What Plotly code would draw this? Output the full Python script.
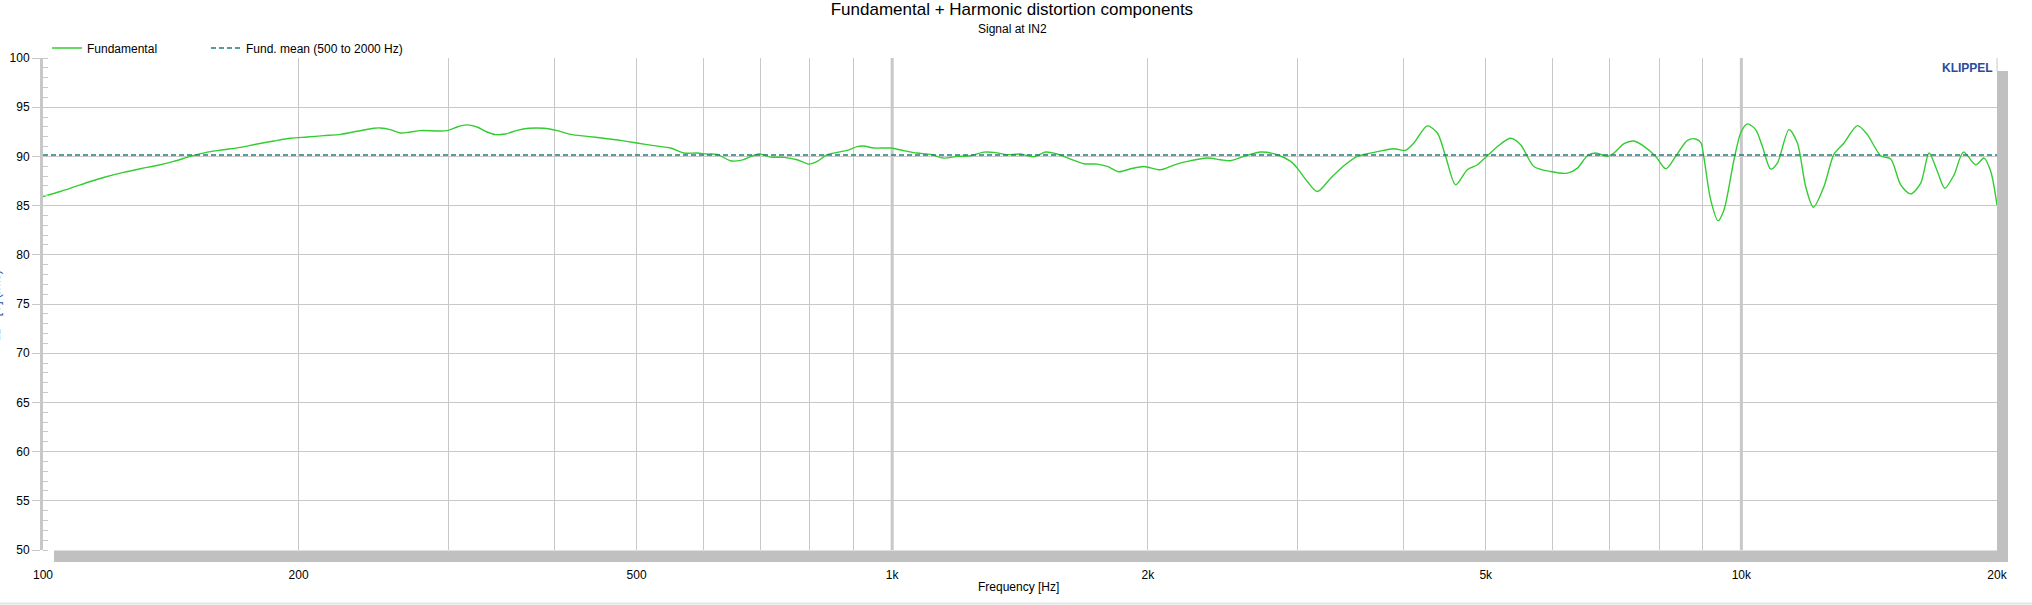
import math
import plotly.graph_objects as go

# ---------------- data ----------------
freq_hz = [100, 104.8, 108.6, 113.7, 119.0, 124.4, 130.2, 136.2, 142.5, 149.1,
           156.1, 163.2, 170.8, 178.7, 186.9, 195.6, 204.6, 214.1, 224.0, 234.4,
           245.2, 249.6, 256.5, 263.5, 270.8, 278.3, 299.2, 307.4, 315.2, 324.5,
           333.4, 341.0, 350.4, 361.7, 373.3, 388.8, 403.2, 418.0, 437.3, 457.5,
           478.6, 500.7, 524.0, 548.2, 568.3, 589.3, 605.5, 622.2, 645.0, 662.8,
           696.5, 719.0, 745.3, 772.8, 797.6, 816.0, 838.4, 861.4, 885.1, 909.5,
           926.0, 951.3, 995.5, 1032, 1070, 1110, 1150, 1193, 1237, 1282,
           1317, 1366, 1416, 1468, 1516, 1564, 1622, 1682, 1744, 1792,
           1849, 1909, 1979, 2070, 2146, 2226, 2350, 2436, 2503, 2595,
           2715, 2841, 2946, 2999, 3082, 3167, 3284, 3404, 3530, 3627,
           3727, 3898, 4023, 4115, 4267, 4385, 4485, 4608, 4757, 4888,
           5022, 5206, 5349, 5496, 5697, 5962, 6240, 6412, 6587, 6737,
           6954, 7079, 7273, 7473, 7679, 7928, 8145, 8368, 8640, 8838,
           8959, 9036, 9202, 9386, 9539, 9802, 9982, 10164, 10395, 10585,
           10827, 11025, 11378, 11640, 11904, 12156, 12511, 12855, 13209, 13698,
           14072, 14590, 14992, 15404, 15828, 16264, 16634, 17017, 17358, 17803,
           18260, 18880, 19310, 19664, 20000]

fund_db = [85.92, 86.43, 86.87, 87.45, 87.96, 88.37, 88.74, 89.08, 89.49, 90.00,
           90.44, 90.68, 90.92, 91.26, 91.56, 91.84, 91.97, 92.11, 92.24, 92.55,
           92.86, 92.89, 92.72, 92.38, 92.48, 92.62, 92.62, 92.99, 93.20, 92.99,
           92.48, 92.21, 92.28, 92.65, 92.86, 92.86, 92.62, 92.24, 92.04, 91.84,
           91.63, 91.36, 91.09, 90.85, 90.34, 90.34, 90.24, 90.20, 89.56, 89.59,
           90.24, 89.93, 89.90, 89.66, 89.22, 89.49, 90.17, 90.41, 90.61, 90.99,
           91.05, 90.85, 90.85, 90.58, 90.34, 90.20, 89.83, 90.00, 90.07, 90.44,
           90.41, 90.17, 90.24, 89.97, 90.44, 90.24, 89.73, 89.25, 89.22, 88.98,
           88.44, 88.74, 88.98, 88.64, 89.12, 89.49, 89.83, 89.66, 89.56, 90.00,
           90.44, 90.17, 89.49, 88.81, 87.45, 86.43, 87.79, 89.05, 90.00, 90.27,
           90.48, 90.78, 90.61, 91.36, 93.10, 92.38, 90.00, 87.11, 88.64, 89.15,
           90.07, 91.26, 91.84, 91.19, 88.98, 88.47, 88.30, 88.81, 90.07, 90.34,
           90.00, 90.34, 91.29, 91.56, 91.02, 90.00, 88.74, 90.00, 91.63, 91.77,
           91.40, 89.83, 85.58, 83.47, 84.56, 89.66, 92.38, 93.30, 92.72, 91.02,
           88.71, 89.32, 92.72, 91.36, 86.94, 84.83, 86.94, 90.24, 91.36, 93.13,
           92.21, 90.07, 89.73, 87.11, 86.19, 87.28, 90.34, 88.47, 86.77, 88.13,
           90.44, 89.15, 89.83, 88.47, 85.07]

mean_db = 90.15
mean_label = "Fund. mean (500 to 2000 Hz)"

x_grid = [100, 200, 300, 400, 500, 600, 700, 800, 900,
          1000, 2000, 3000, 4000, 5000, 6000, 7000, 8000, 9000,
          10000, 20000]
x_tick_labels = {100: "100", 200: "200", 500: "500", 1000: "1k",
                 2000: "2k", 5000: "5k", 10000: "10k", 20000: "20k"}
heavy_grid = [1000, 10000]
x_range_hz = [100, 20000]
y_range = [50, 100]

# ---------------- styling ----------------
FONT = "Liberation Sans, Arial, Helvetica, sans-serif"
GRID = "#c8c8c8"
BAR = "#c0c0c0"

L, R, T, B = 43, 35, 58, 55
W, H = 2032, 605
PW, PH = W - L - R, H - T - B


def px_x(p):
    return (p - L) / PW


def px_y(p):
    return (H - B - p) / PH


fig = go.Figure()

for v in heavy_grid:
    fig.add_trace(go.Scatter(x=[v, v], y=y_range, mode="lines",
                             line=dict(color=GRID, width=3),
                             showlegend=False, hoverinfo="skip"))

fig.add_trace(go.Scatter(x=freq_hz, y=fund_db, mode="lines", name="Fundamental",
                         legendwidth=114,
                         line=dict(color="#33cc33", width=1.4, shape="spline",
                                   smoothing=0.8)))

fig.add_trace(go.Scatter(x=x_range_hz, y=[mean_db, mean_db], mode="lines",
                         name=mean_label,
                         line=dict(color="#1b7f7f", width=1.5, dash="5px,3px")))

fig.update_layout(
    width=W, height=H,
    margin=dict(l=L, r=R, t=T, b=B, autoexpand=False),
    paper_bgcolor="white", plot_bgcolor="white",
    font=dict(family=FONT, size=12, color="#000000"),
    title=dict(text="Fundamental + Harmonic distortion components",
               x=0.498, xanchor="center", xref="container",
               y=1 - 9 / H, yanchor="middle", yref="container",
               font=dict(size=17, color="#000000")),
    showlegend=True,
    legend=dict(orientation="h", x=px_x(47), xanchor="left",
                y=px_y(48), yanchor="middle",
                font=dict(size=12), bgcolor="rgba(0,0,0,0)",
                tracegroupgap=0),
    xaxis=dict(type="log", range=[math.log10(x_range_hz[0]), math.log10(x_range_hz[1])],
               tickmode="array", tickvals=x_grid,
               ticktext=[x_tick_labels.get(v, "") for v in x_grid],
               showgrid=True, gridcolor=GRID, gridwidth=1,
               ticks="outside", ticklen=14, tickcolor="rgba(0,0,0,0)",
               showline=False, zeroline=False, tickfont=dict(size=12)),
    yaxis=dict(range=y_range, tickmode="linear", tick0=50, dtick=5,
               showgrid=True, gridcolor=GRID, gridwidth=1,
               ticks="outside", ticklen=8, tickcolor=GRID, tickwidth=1,
               showline=True, linewidth=3, linecolor=GRID, zeroline=False,
               tickfont=dict(size=12),
               minor=dict(dtick=1, ticks="inside", ticklen=5,
                          tickcolor=GRID, tickwidth=1, showgrid=False)),
)

fig.add_annotation(text="Signal at IN2", xref="paper", yref="paper",
                   x=px_x(1012), y=px_y(29), xanchor="center", yanchor="middle",
                   showarrow=False, font=dict(size=12, color="#000000"))
fig.add_annotation(text="Frequency [Hz]", xref="paper", yref="paper",
                   x=px_x(1018), y=px_y(587), xanchor="center", yanchor="middle",
                   showarrow=False, font=dict(size=12, color="#000000"))
fig.add_annotation(text="<b>KLIPPEL</b>", xref="paper", yref="paper",
                   x=px_x(1995), y=px_y(68), xanchor="right", yanchor="middle",
                   showarrow=False, font=dict(size=12, color="#2b4ba0"))
# the y-axis title is mostly outside the window in the original, only a sliver shows
fig.add_annotation(text="dB - [V] (rms)", xref="paper", yref="paper",
                   x=px_x(-4.5), y=px_y(306), xanchor="center", yanchor="middle",
                   textangle=-90, showarrow=False,
                   font=dict(size=12, color="#1f4e9c"))

# frame pieces of the original window (border, scroll bars)
fig.add_shape(type="line", xref="paper", yref="paper", x0=1, x1=1,
              y0=px_y(71), y1=1, line=dict(color=GRID, width=1))
fig.add_shape(type="rect", xref="paper", yref="paper",
              x0=px_x(54), x1=px_x(2008), y0=px_y(562), y1=px_y(550.5),
              fillcolor=BAR, line=dict(width=0))
fig.add_shape(type="rect", xref="paper", yref="paper",
              x0=px_x(1997), x1=px_x(2008), y0=px_y(562), y1=px_y(71),
              fillcolor=BAR, line=dict(width=0))
fig.add_shape(type="line", xref="paper", yref="paper",
              x0=px_x(0), x1=px_x(W), y0=px_y(603.5), y1=px_y(603.5),
              line=dict(color="#e4e4e4", width=2))

fig.write_html("out.html",
               config={"displayModeBar": False},
               post_script="document.body.style.margin='0';"
                           "document.body.style.overflow='hidden';")
